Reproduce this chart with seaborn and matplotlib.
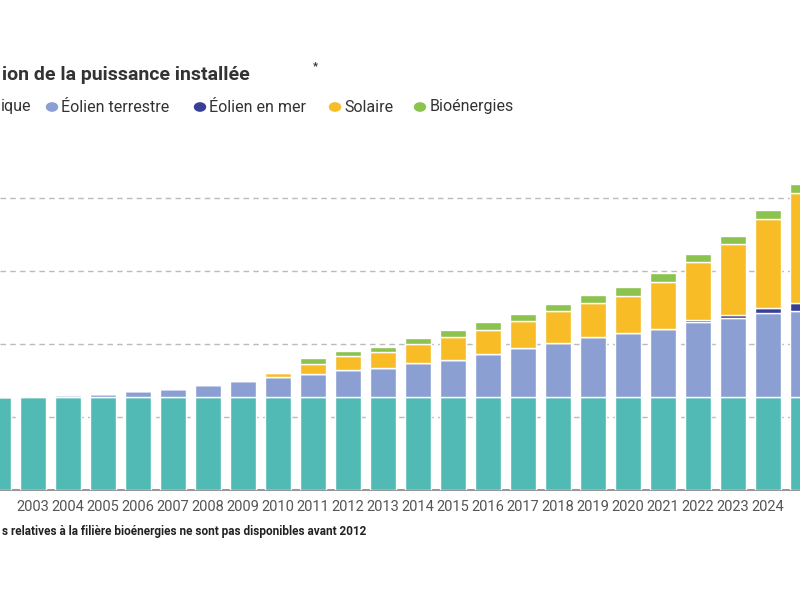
import numpy as np
import pandas as pd
import matplotlib.pyplot as plt
import seaborn as sns

sns.set_theme(style="white")
plt.rcParams["font.family"] = ["Roboto", "DejaVu Sans"]

YEARS = [str(y) for y in range(2002, 2026)]
HYDRO = [25.5] * 24
ONSHORE = [0.1, 0.2, 0.4, 0.7, 1.5, 2.2, 3.3, 4.4, 5.5, 6.3, 7.4, 8.0,
           9.2, 10.1, 11.7, 13.3, 14.7, 16.5, 17.5, 18.7, 20.5, 21.7, 22.9, 23.6]
OFFSHORE = [0] * 20 + [0.5, 0.8, 1.5, 2.0]
SOLAR = [0, 0, 0, 0, 0, 0, 0.1, 0.2, 1.1, 2.7, 3.8, 4.4,
         5.3, 6.2, 6.7, 7.6, 8.7, 9.3, 10.2, 12.9, 15.9, 19.4, 24.3, 30.3]
BIO = [0] * 9 + [1.6, 1.4, 1.4, 1.6, 1.9, 2.0, 1.9, 2.1, 2.1, 2.3, 2.3, 2.3, 2.2, 2.4, 2.4]

SERIES = [
    ("ique", HYDRO, "#52BAB4"),
    ("Éolien terrestre", ONSHORE, "#8C9FD3"),
    ("Éolien en mer", OFFSHORE, "#3A3F96"),
    ("Solaire", SOLAR, "#F7BC26"),
    ("Bioénergies", BIO, "#8CC34E"),
]

fig = plt.figure(figsize=(8, 6), dpi=100)
ax = fig.add_axes([0, 110 / 600, 1, 360 / 600])

bottom = np.zeros(len(YEARS))
for name, vals, color in SERIES:
    sns.barplot(x=YEARS, y=vals, bottom=bottom, color=color, width=0.72,
                saturation=1, errorbar=None, ax=ax, zorder=3)
    bottom += np.array(vals)

ax.set_xlim(0.057, 22.914)
ax.set_ylim(0, 98.6)
ax.set_yticks([20, 40, 60, 80])
ax.yaxis.grid(True, linestyle=(0, (4, 3)), color="#bbbbbb", linewidth=1, zorder=0)
ax.set_yticklabels([])
ax.tick_params(axis="y", length=0)
ax.tick_params(axis="x", length=0, labelsize=10.5, labelcolor="#555555", pad=7)
sns.despine(ax=ax, left=True, right=True, top=True)
ax.spines["bottom"].set_color("#888888")
ax.set_xlabel("")

# title, legend and footnote (left part cut off like the reference)
fig.text(2 / 800, 1 - 75 / 600, "ion de la puissance installée",
         ha="left", va="center", fontsize=14, fontweight="bold", color="#333333")
fig.text(313 / 800, 1 - 66 / 600, "*", ha="left", va="center", fontsize=8,
         fontweight="bold", color="#333333")

legend_items = [(None, 1), (52, 61), (200, 209), (335, 344), (420, 430)]
ly = 1 - 107 / 600
for (name, _, color), (mx, tx) in zip(SERIES, legend_items):
    if mx is not None:
        fig.patches.append(plt.Circle((mx / 800, ly), 5.5 / 800, color=color,
                                      transform=fig.transFigure, figure=fig))
    fig.text(tx / 800, ly, name, ha="left", va="center", fontsize=11.5, color="#333333")

fig.text(2 / 800, 1 - 532 / 600,
         "s relatives à la filière bioénergies ne sont pas disponibles avant 2012",
         ha="left", va="center", fontsize=8.5, fontweight="bold", color="#222222")

fig.savefig("out.png", dpi=100)
